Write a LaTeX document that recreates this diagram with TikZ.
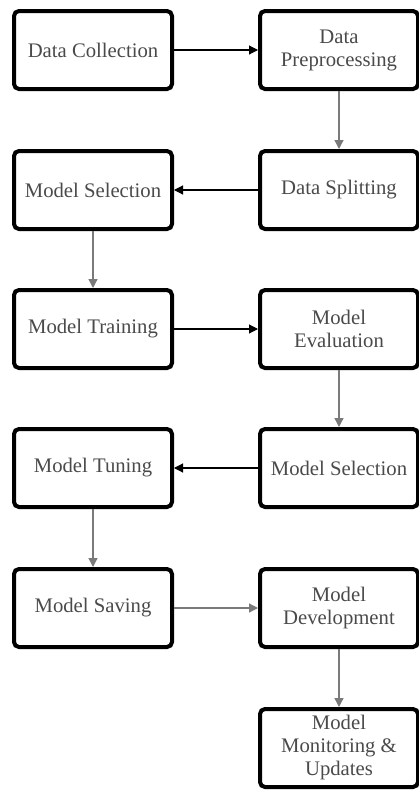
\documentclass[tikz,border=0pt]{standalone}
\usepackage{fontspec}
\setmainfont{Liberation Serif}
\usetikzlibrary{arrows.meta}
\definecolor{txt}{HTML}{4A4A4A}
\definecolor{garrow}{HTML}{7A7A7A}
\tikzset{
  box/.style={draw=black, line width=4pt, rounded corners=5pt, minimum width=158pt, minimum height=78pt, inner sep=0pt, align=center, text=txt, font=\fontsize{20.7pt}{23pt}\selectfont},
  harrow/.style={draw=black, line width=1.1pt, -{Triangle[length=9pt,width=9pt]}},
  varrow/.style={draw=garrow, line width=1.3pt, -{Triangle[length=9pt,width=9pt]}}
}
\begin{document}
\begin{tikzpicture}[x=1pt,y=-1pt]
\useasboundingbox (0,0) rectangle (419,790);
\node[box] (dc) at (93,50) {Data Collection};
\node[box] (dp) at (339,50) {Data\\Preprocessing};
\node[box] (ds) at (339,190) {Data Splitting};
\node[box] (ms1) at (93,190) {Model Selection};
\node[box] (mt) at (93,329) {Model Training};
\node[box] (me) at (339,329) {Model\\Evaluation};
\node[box] (ms2) at (339,468) {Model Selection};
\node[box] (mtu) at (93,468) {Model Tuning};
\node[box] (msv) at (93,608) {Model Saving};
\node[box] (md) at (339,608) {Model\\Development};
\node[box] (mm) at (339,748) {Model\\Monitoring \&\\Updates};
\draw[harrow] (dc) -- (dp);
\draw[varrow] (dp) -- (ds);
\draw[harrow] (ds) -- (ms1);
\draw[varrow] (ms1) -- (mt);
\draw[harrow] (mt) -- (me);
\draw[varrow] (me) -- (ms2);
\draw[harrow] (ms2) -- (mtu);
\draw[varrow] (mtu) -- (msv);
\draw[varrow] (msv) -- (md);
\draw[varrow] (md) -- (mm);
\end{tikzpicture}
\end{document}
